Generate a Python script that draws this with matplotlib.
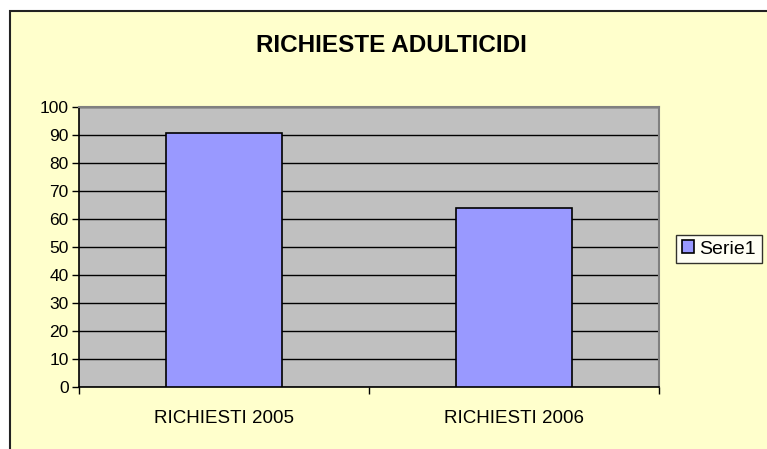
import matplotlib
matplotlib.use("Agg")
import matplotlib.pyplot as plt
from matplotlib.patches import Rectangle

# data
categories = ["RICHIESTI 2005", "RICHIESTI 2006"]
values = [91, 64]
series_name = "Serie1"
title = "RICHIESTE ADULTICIDI"

plt.rcParams["font.family"] = ["Liberation Sans", "DejaVu Sans"]

BG = "#FFFFCC"
PLOT_BG = "#C0C0C0"
BAR = "#9999FF"

fig = plt.figure(figsize=(7.67, 4.49), dpi=100)
fig.patch.set_facecolor("white")

# chart area (cropped at right/bottom like the source)
fig.patches.append(Rectangle((10 / 767, -0.1), 1.2, (449 - 11) / 449 + 0.1,
                             transform=fig.transFigure, facecolor=BG,
                             edgecolor="#222222", linewidth=1.5, zorder=-5))

ax = fig.add_axes([79 / 767, (449 - 387.3) / 449, 580 / 767, 280 / 449])
ax.set_facecolor(PLOT_BG)

x = range(len(categories))
ax.bar(x, values, width=0.4, color=BAR, edgecolor="black", linewidth=1.2,
       zorder=3, label=series_name)

ax.set_xlim(-0.5, len(categories) - 0.5)
ax.set_ylim(0, 100)
ax.set_yticks(range(0, 101, 10))
ax.yaxis.grid(True, color="black", linewidth=1.0, zorder=1)
ax.set_axisbelow(True)

ax.set_xticks([-0.5, 0.5, 1.5])
ax.set_xticklabels([])
ax.set_xticks(list(x), minor=True)
ax.set_xticklabels(categories, minor=True, fontsize=13.5)
ax.tick_params(axis="x", which="minor", length=0, pad=16)
ax.tick_params(axis="x", which="major", length=5, width=1, direction="out")
ax.tick_params(axis="y", length=5, width=1, direction="out", labelsize=12.5, pad=2.5)

for s in ["left", "bottom"]:
    ax.spines[s].set_color("black")
    ax.spines[s].set_linewidth(1.2)
for s in ["top", "right"]:
    ax.spines[s].set_color("#808080")
    ax.spines[s].set_linewidth(1.5)

fig.text(391.7 / 767, 1 - 51.7 / 449, title, ha="center", va="baseline",
         fontsize=17.5, fontweight="bold")

leg = fig.legend(loc="center left", bbox_to_anchor=(676 / 767, 1 - 249 / 449),
                 fontsize=14, frameon=True, fancybox=False,
                 handlelength=0.6, handleheight=0.6, handletextpad=0.3,
                 borderpad=0.3, borderaxespad=0)
leg.get_frame().set_edgecolor("black")
leg.get_frame().set_linewidth(1.0)
leg.get_frame().set_facecolor("white")

fig.savefig("out.png", dpi=100, facecolor=fig.get_facecolor())
